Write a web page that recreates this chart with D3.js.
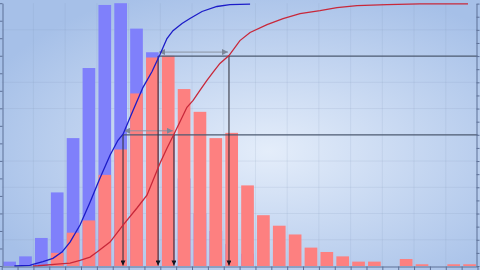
<!DOCTYPE html>
<html>
<head>
<meta charset="utf-8">
<script src="https://cdn.jsdelivr.net/npm/d3@7"></script>
<style>
  body { margin: 0; background: #b4cbec; }
  svg { display: block; }
</style>
</head>
<body>
<script>
// bins along the x axis
var bins = [0,1,2,3,4,5,6,7,8,9,10,11,12,13,14,15,16,17,18,19,20,21,22,23,24,25,26,27,28,29];

// histogram counts (blue = before, red = after)
var blueCounts = [5,11,32,84,146,226,298,300,271,244,150,100,60,40,25,14,0,0,0,0,0,0,0,0,0,0,0,0,0,0];
var redCounts  = [0,0,0,15,38,52,104,133,197,238,240,202,176,146,152,92,58,46,36,21,16,11,5,5,0,8,2,0,2,2];

// cumulative curves, [bin position, share]
var blueCum = [[0.8,0],[1.78,0.002],[1.97,0.006],[2.6,0.017],[3.23,0.029],[3.8,0.053],[4.31,0.091],
  [4.94,0.156],[5.57,0.243],[6.2,0.335],[6.83,0.422],[7.33,0.479],[7.65,0.502],[8.28,0.593],
  [8.91,0.681],[9.48,0.741],[9.98,0.806],[10.42,0.867],[10.8,0.897],[11.37,0.924],[11.87,0.943],
  [12.63,0.97],[13.57,0.989],[14.39,0.996],[15.66,0.998]];
var redCum = [[1.97,0],[2.29,0.001],[3.68,0.008],[4.31,0.011],[4.94,0.021],[5.57,0.034],[6.01,0.053],
  [6.83,0.091],[7.65,0.156],[8.53,0.221],[9.16,0.27],[9.98,0.392],[10.42,0.449],[10.86,0.502],
  [11.68,0.605],[12.07,0.631],[12.5,0.669],[12.94,0.707],[13.32,0.738],[13.76,0.772],[14.33,0.802],
  [15.02,0.859],[15.66,0.89],[16.73,0.92],[17.74,0.943],[18.81,0.962],[20.07,0.973],[21.14,0.985],
  [22.4,0.992],[24.29,0.996],[26.37,0.999],[29.4,0.999]];

// quantile markers
var levels = [0.5, 0.8];
var blueQuant = [7.65, 9.86];
var redQuant = [10.86, 14.33];

var leftTicks = d3.range(0, 301, 20);
var rightTicks = d3.range(0, 1.001, 0.05);
var gridY = [0.1,0.2,0.3,0.4,0.6,0.7,0.9];
var gridX = [2,4,6,8,10,12,14,16,18,20,22,24,26,28];

var W = 480, H = 270;
var x0 = 1.7, x1 = 477.5, yBot = 266, yTop = 3.2;

var svg = d3.select("body").append("svg").attr("width", W).attr("height", H);
var defs = svg.append("defs");

var grad = defs.append("radialGradient").attr("id", "bg")
    .attr("cx", "56%").attr("cy", "56%").attr("r", "64%");
grad.append("stop").attr("offset", "0%").attr("stop-color", "#e4edfa");
grad.append("stop").attr("offset", "100%").attr("stop-color", "#a6c0e8");

function marker(id, color, w, h) {
    defs.append("marker").attr("id", id)
        .attr("viewBox", "0 0 10 10").attr("refX", 10).attr("refY", 5)
        .attr("markerWidth", w).attr("markerHeight", h)
        .attr("markerUnits", "userSpaceOnUse")
        .attr("orient", "auto-start-reverse")
      .append("path").attr("d", "M0,0L10,5L0,10Z").attr("fill", color);
}
marker("arrBlack", "#151520", 6, 5);
marker("arrGray", "#7c8698", 6, 6);

svg.append("rect").attr("width", W).attr("height", H).attr("fill", "url(#bg)");

var xb = d3.scaleBand().domain(bins).range([x0, x1]).paddingInner(0.2).paddingOuter(0.1);
var xc = d3.scaleLinear().domain([0, 30]).range([x0, x1]);
var yl = d3.scaleLinear().domain([0, 300]).range([yBot, yTop]);
var yr = d3.scaleLinear().domain([0, 1]).range([yBot, yTop + 0.4]);

// faint grid
svg.append("g").selectAll("line").data(gridX).join("line")
    .attr("x1", function(d) { return xc(d); }).attr("x2", function(d) { return xc(d); })
    .attr("y1", yTop).attr("y2", yBot)
    .attr("stroke", "#7d92b4").attr("stroke-opacity", 0.15);
svg.append("g").selectAll("line").data(gridY).join("line")
    .attr("x1", x0).attr("x2", x1)
    .attr("y1", function(d) { return yr(d); }).attr("y2", function(d) { return yr(d); })
    .attr("stroke", "#7d92b4").attr("stroke-opacity", 0.15);

// bars
svg.append("g").selectAll("rect").data(bins).join("rect")
    .attr("x", function(d) { return xb(d); })
    .attr("width", xb.bandwidth())
    .attr("y", function(d, i) { return yl(blueCounts[i]); })
    .attr("height", function(d, i) { return yBot - yl(blueCounts[i]); })
    .attr("fill", "#7f80fb");
svg.append("g").selectAll("rect").data(bins).join("rect")
    .attr("x", function(d) { return xb(d); })
    .attr("width", xb.bandwidth())
    .attr("y", function(d, i) { return yl(redCounts[i]); })
    .attr("height", function(d, i) { return yBot - yl(redCounts[i]); })
    .attr("fill", "#fd8080");

// quantile lines and arrows
levels.forEach(function(lv, i) {
    var y = yr(lv);
    svg.append("line").attr("x1", xc(blueQuant[i])).attr("x2", x1)
        .attr("y1", y).attr("y2", y)
        .attr("stroke", "#4c5a70").attr("stroke-width", 1.3);
    [blueQuant[i], redQuant[i]].forEach(function(q) {
        svg.append("line").attr("x1", xc(q)).attr("x2", xc(q))
            .attr("y1", y).attr("y2", yBot - 0.5)
            .attr("stroke", "#2a2a36").attr("stroke-width", 1)
            .attr("marker-end", "url(#arrBlack)");
    });
    svg.append("line").attr("x1", xc(blueQuant[i]) + 1).attr("x2", xc(redQuant[i]) - 1)
        .attr("y1", y - 4).attr("y2", y - 4)
        .attr("stroke", "#8a93a3").attr("stroke-width", 1)
        .attr("marker-start", "url(#arrGray)")
        .attr("marker-end", "url(#arrGray)");
});

// cumulative curves
var line = d3.line()
    .x(function(d) { return xc(d[0]); })
    .y(function(d) { return yr(d[1]); });
svg.append("path").datum(blueCum).attr("d", line)
    .attr("fill", "none").attr("stroke", "#1c1cc8").attr("stroke-width", 1.3);
svg.append("path").datum(redCum).attr("d", line)
    .attr("fill", "none").attr("stroke", "#c8283a").attr("stroke-width", 1.3);

// axes
var axisColor = "#5d7097";
function style(g) {
    g.selectAll("path,line").attr("stroke", axisColor);
    g.selectAll("text").remove();
}
svg.append("g").attr("transform", "translate(2.5,0)")
    .call(d3.axisLeft(yl).tickValues(leftTicks).tickSize(3).tickSizeOuter(0))
    .call(style);
svg.append("g").attr("transform", "translate(476.5,0)")
    .call(d3.axisRight(yr).tickValues(rightTicks).tickSize(3).tickSizeOuter(0))
    .call(style);
svg.append("g").attr("transform", "translate(0," + (yBot + 0.5) + ")")
    .call(d3.axisBottom(xc).tickValues(d3.range(0, 31)).tickSize(4).tickSizeOuter(0))
    .call(style);
</script>
</body>
</html>
